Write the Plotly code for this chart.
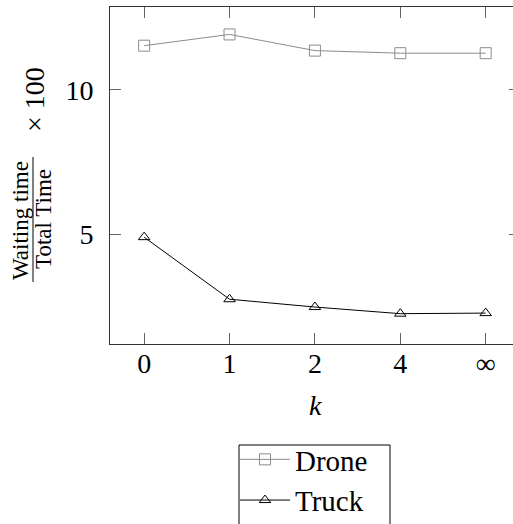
import plotly.graph_objects as go

k_labels = ["0", "1", "2", "4", "∞"]
drone = [11.53, 11.92, 11.36, 11.27, 11.27]
truck = [4.90, 2.75, 2.48, 2.25, 2.27]
y_ticks = [5, 10]

FONT = "'Liberation Serif', 'Times New Roman', 'DejaVu Serif', serif"
W, H = 513, 524
L, R, T, B = 110, 0, 7, 180
PW, PH = W - L - R, H - T - B


def px(x):
    return (x - L) / PW


def py(y):
    return (T + PH - y) / PH


xs = list(range(len(k_labels)))

fig = go.Figure()
fig.add_trace(go.Scatter(
    x=xs, y=drone, name="Drone", mode="lines+markers",
    line=dict(color="#8c8c8c", width=1),
    marker=dict(symbol="square-open", size=11, color="#8c8c8c", line=dict(width=1)),
))
fig.add_trace(go.Scatter(
    x=xs, y=truck, name="Truck", mode="lines+markers",
    line=dict(color="black", width=1),
    marker=dict(symbol="triangle-up-open", size=10, color="black", line=dict(width=1)),
))
# invisible trace to carry right-side ticks
fig.add_trace(go.Scatter(x=[None], y=[None], yaxis="y2", showlegend=False, hoverinfo="skip"))

fig.update_layout(
    width=W, height=H,
    margin=dict(l=L, r=R, t=T, b=B, autoexpand=False),
    plot_bgcolor="white", paper_bgcolor="white",
    font=dict(family=FONT, size=28, color="black"),
    showlegend=True,
    legend=dict(
        x=px(235), y=py(434), xanchor="left", yanchor="top",
        borderwidth=0, bgcolor="rgba(0,0,0,0)",
        font=dict(family=FONT, size=29), itemwidth=50,
        tracegroupgap=0,
    ),
    xaxis=dict(
        range=[-0.4, 4.32],
        tickmode="array", tickvals=xs, ticktext=k_labels,
        ticks="inside", ticklen=11, tickcolor="#666", tickwidth=1,
        showline=True, linecolor="#333", linewidth=1, mirror="ticks",
        showgrid=False, zeroline=False, ticklabelstandoff=-6,
    ),
    yaxis=dict(
        range=[1.2, 12.87],
        tickmode="array", tickvals=y_ticks, ticktext=[str(v) for v in y_ticks],
        ticks="inside", ticklen=11, tickcolor="#666", tickwidth=1,
        showline=True, linecolor="#333", linewidth=1, mirror=False,
        showgrid=False, zeroline=False, ticklabelstandoff=10,
    ),
    yaxis2=dict(
        overlaying="y", side="right", matches="y",
        tickmode="array", tickvals=y_ticks, showticklabels=False,
        ticks="inside", ticklen=4, tickcolor="#666", tickwidth=1,
        showline=False, showgrid=False, zeroline=False,
    ),
)

# legend frame
fig.add_shape(type="rect", xref="paper", yref="paper",
              x0=px(239), x1=px(390), y0=py(445), y1=py(540),
              line=dict(color="black", width=1), layer="above")

# x axis title
fig.add_annotation(text="<i>k</i>", x=px(315), y=py(405), xref="paper", yref="paper",
                   showarrow=False, xanchor="center", yanchor="middle",
                   font=dict(family=FONT, size=28))
# y axis title: fraction
fig.add_annotation(text="Waiting time", x=px(21), y=py(221), xref="paper", yref="paper",
                   showarrow=False, textangle=-90, xanchor="center", yanchor="middle",
                   font=dict(family=FONT, size=23))
fig.add_annotation(text="Total Time", x=px(43), y=py(219), xref="paper", yref="paper",
                   showarrow=False, textangle=-90, xanchor="center", yanchor="middle",
                   font=dict(family=FONT, size=23))
fig.add_shape(type="line", xref="paper", yref="paper",
              x0=px(33), x1=px(33), y0=py(157), y1=py(282),
              line=dict(color="black", width=1))
fig.add_annotation(text="× 100", x=px(34), y=py(100), xref="paper", yref="paper",
                   showarrow=False, textangle=-90, xanchor="center", yanchor="middle",
                   font=dict(family=FONT, size=28))

fig.write_html("out.html", config={"displayModeBar": False},
               post_script="document.body.style.margin='0';")
